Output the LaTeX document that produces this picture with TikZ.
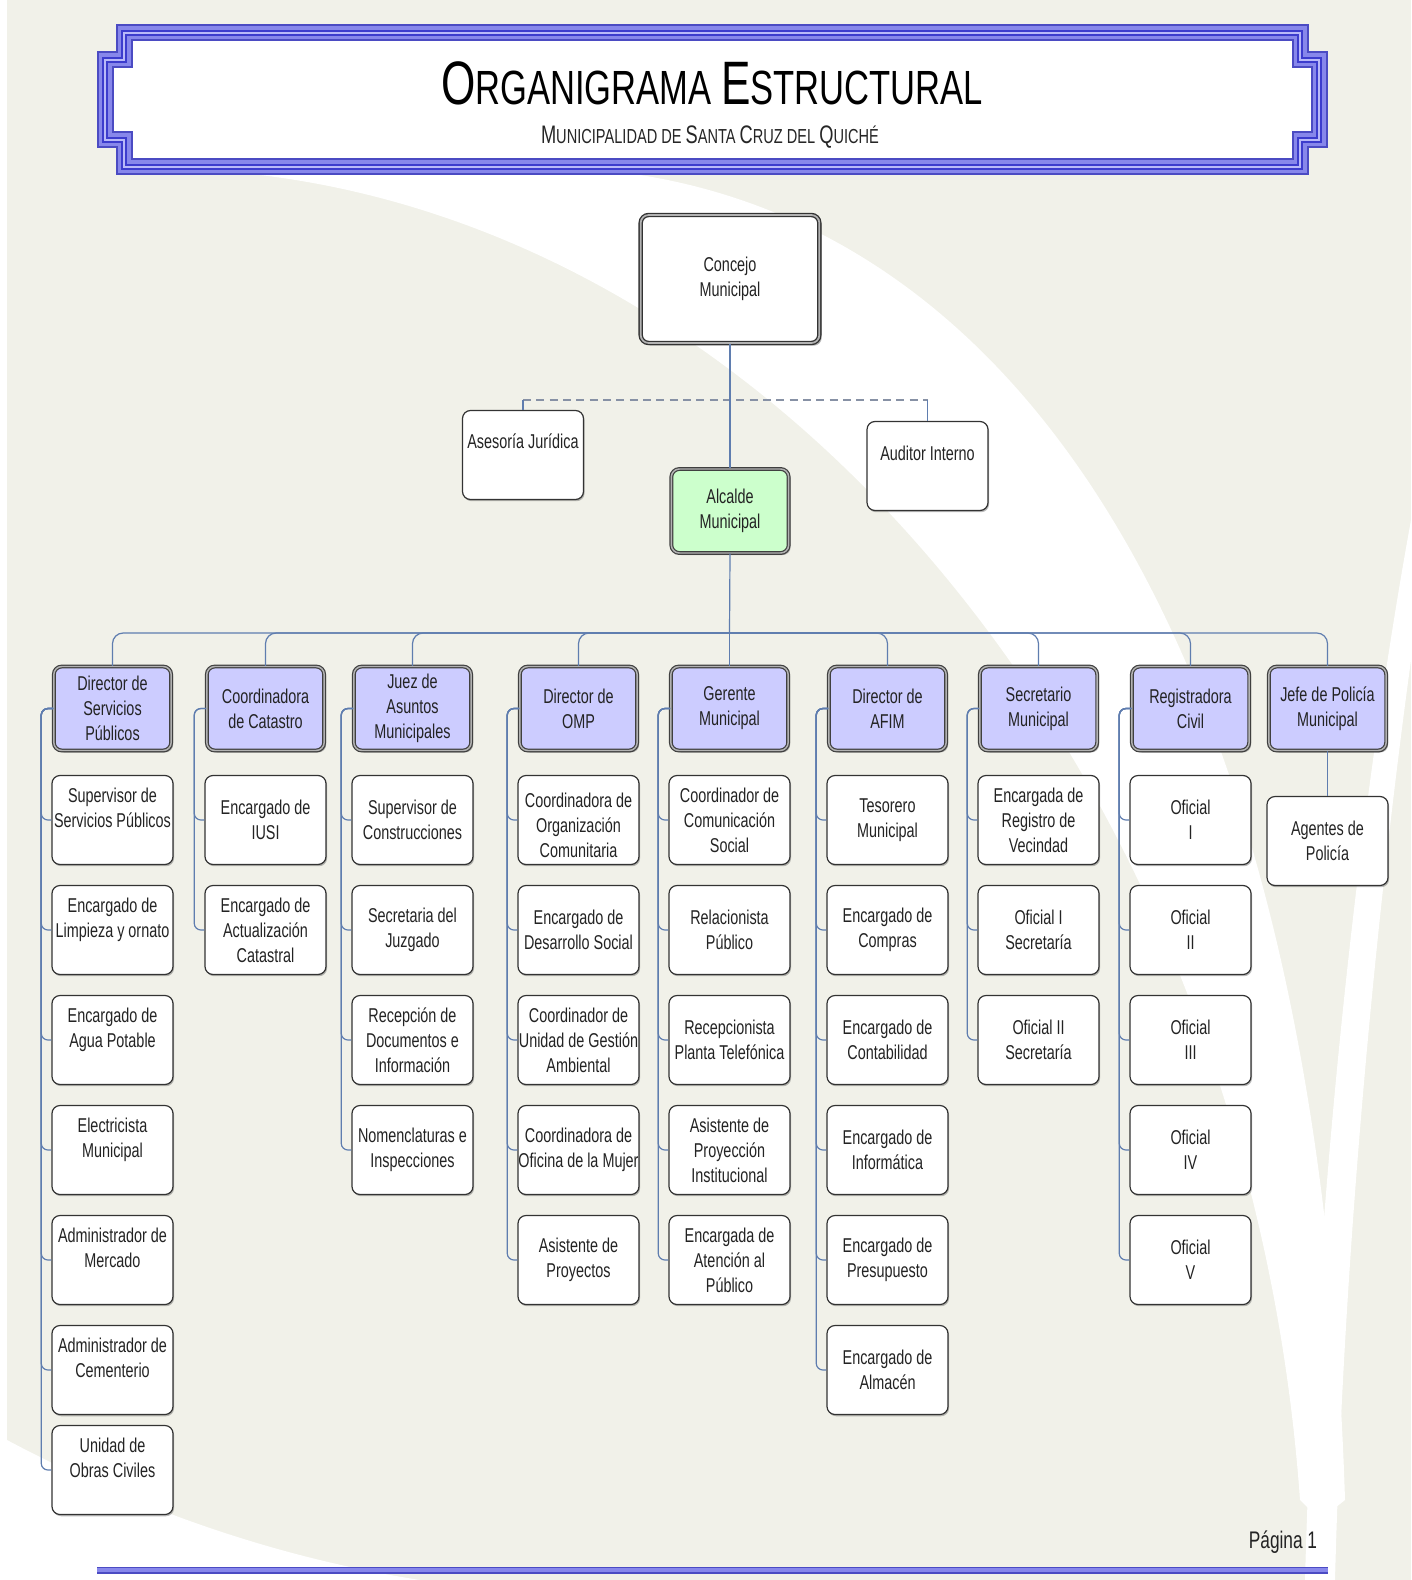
\documentclass[tikz,border=0pt]{standalone}
\usepackage{fontspec}
\setmainfont{Liberation Sans}[FakeStretch=0.72]
\usetikzlibrary{shadows}
\definecolor{bgc}{RGB}{241,241,233}
\definecolor{lav}{RGB}{204,204,255}
\definecolor{grn}{RGB}{204,255,204}
\definecolor{conc}{RGB}{95,125,175}
\definecolor{txt}{RGB}{35,35,35}
\definecolor{fba}{RGB}{75,75,195}
\definecolor{fbb}{RGB}{135,135,235}
\definecolor{fbc}{RGB}{60,60,205}
\definecolor{fbd}{RGB}{185,185,248}
\definecolor{dashc}{RGB}{135,145,165}
\tikzset{
 box/.style={rectangle, rounded corners=6pt, draw=black!80, line width=0.9pt, fill=white,
   minimum width=90.75pt, minimum height=66.75pt, inner sep=0pt, align=center, text=txt,
   font=\fontsize{15}{18.75}\selectfont,
   drop shadow={shadow xshift=0.8pt, shadow yshift=-1.3pt, opacity=0.45, fill=black!60}},
 headbox/.style={box, fill=lav, draw=black!75, line width=0.9pt, double=black!30,
   double distance=1.1pt, minimum height=63pt, minimum width=88pt,
   drop shadow={shadow xshift=1.5pt, shadow yshift=-1.5pt, opacity=0.5, fill=black!60}},
 conn/.style={draw=conc, line width=0.9pt, rounded corners=5pt},
 lbl/.style={text=txt, font=\fontsize{15}{18.75}\selectfont, inner sep=0pt},
}
\def\rowy{{820,930,1040,1150,1260,1370,1470}}
\newcommand\orgcol[3]{%
 \foreach \t [count=\i] in {#3} {%
   \pgfmathsetmacro\yy{\rowy[\i-1]}%
   \node[box] (c#1-\i) at (#2,\yy) {\t};
   \draw[conn] (h#1.west) -- ++(-12,0) |- (c#1-\i.west);
 }}
\newcommand\bigc[1]{{\fontsize{19}{19}\selectfont #1}}
\begin{document}
\begin{tikzpicture}[x=0.75pt,y=-0.75pt]
\useasboundingbox (0,0) rectangle (1411,1580);
% background
\fill[white] (0,0) rectangle (1411,1580);
\fill[bgc] (7,0) rectangle (1411,1580);
\fill[white] (260,175) .. controls (800,240) and (1250,800) .. (1300,1500)
  .. controls (1320,1520) .. (1345,1500) .. controls (1320,700) and (1050,240) .. (640,175) -- cycle;
\fill[white] (1411,520) .. controls (1360,800) and (1315,1200) .. (1305,1580) -- (1335,1580)
  .. controls (1345,1200) and (1385,850) .. (1411,660) -- cycle;
\fill[white] (7,1440) .. controls (120,1500) and (260,1555) .. (420,1580) -- (7,1580) -- cycle;
% title frame
\fill[white] (124,33) -- (1300,33) -- (1300,60) -- (1319,60) -- (1319,140) -- (1300,140) -- (1300,167) -- (124,167) -- (124,140) -- (105,140) -- (105,60) -- (124,60) -- cycle;
\foreach \w/\c in {17/fba, 13/fbb, 6/fbc, 2/fbd}{
 \draw[line width=\w*0.75pt, \c, line join=miter]
  (124,33) -- (1300,33) -- (1300,60) -- (1319,60) -- (1319,140) -- (1300,140) -- (1300,167) -- (124,167) -- (124,140) -- (105,140) -- (105,60) -- (124,60) -- cycle;
}
\node[text=black, inner sep=0pt] (title) at (712,83)
  {\fontsize{46}{46}\selectfont O\fontsize{36}{36}\selectfont RGANIGRAMA \fontsize{46}{46}\selectfont E\fontsize{36}{36}\selectfont STRUCTURAL};
\node[text=black!85, inner sep=0pt, font=\fontsize{15.2}{15.2}\selectfont] (subtitle) at (710,137)
  {\bigc{M}UNICIPALIDAD DE \bigc{S}ANTA \bigc{C}RUZ DEL \bigc{Q}UICHÉ};
% top nodes
\node[box, double=black!30, double distance=1.3pt, line width=1pt, minimum width=134pt, minimum height=96pt,
  drop shadow={shadow xshift=1.8pt, shadow yshift=-2pt, opacity=0.5, fill=black!60}] (concejo) at (730,279) {Concejo\\Municipal};
\node[headbox, fill=grn] (alc) at (730,511) {Alcalde\\Municipal};
\node[box] (ases) at (523,455) {};
\node[lbl] (asest) at (523,441) {Asesoría Jurídica};
\node[box] (aud) at (927.5,466) {};
\node[lbl] (audt) at (927.5,453) {Auditor Interno};
\coordinate (dl) at (523,400);
\coordinate (dr) at (927.5,400);
\draw[dashc, line width=1.4pt, dash pattern=on 6pt off 4pt] (dl) -- (dr);
\draw[conn] (dl) -- (ases.north);
\draw[conn] (dr) -- (aud.north);
\draw[conn] (concejo.south) -- (alc.north);
% column heads
\node[headbox] (h1) at (112.5,708.5) {Director de\\Servicios\\Públicos};
\node[headbox] (h2) at (265.5,708.5) {Coordinadora\\de Catastro};
\node[headbox] (h3) at (412.5,708.5) {Juez de\\Asuntos\\Municipales};
\node[headbox] (h4) at (578.5,708.5) {Director de\\OMP};
\node[headbox] (h5) at (729.5,708.5) {Gerente\\Municipal};
\node[headbox] (h6) at (887.5,708.5) {Director de\\AFIM};
\node[headbox] (h7) at (1038.5,708.5) {Secretario\\Municipal};
\node[headbox] (h8) at (1190.5,708.5) {Registradora\\Civil};
\node[headbox] (h9) at (1327.5,708.5) {Jefe de Policía\\Municipal};
\coordinate (bus) at (729.5,633);
\draw[conn] (alc.south) -- (bus);
\draw[conn] (bus) -- (h5.north);
\foreach \k in {1,2,3,4,6,7,8,9}{
  \draw[conn, rounded corners=8pt] (h\k.north) |- (bus);
}
% children
\orgcol{1}{112.5}{{Supervisor de\\Servicios Públicos\\\mbox{}},{Encargado de\\Limpieza y ornato\\\mbox{}},{Encargado de\\Agua Potable\\\mbox{}},{Electricista\\Municipal\\\mbox{}},{Administrador de\\Mercado\\\mbox{}},{Administrador de\\Cementerio\\\mbox{}},{Unidad de\\Obras Civiles\\\mbox{}}}
\orgcol{2}{265.5}{{Encargado de\\IUSI},{Encargado de\\Actualización\\Catastral}}
\orgcol{3}{412.5}{{Supervisor de\\Construcciones},{Secretaria del\\Juzgado},{Recepción de\\Documentos e\\Información},{Nomenclaturas e\\Inspecciones}}
\orgcol{4}{578.5}{{\mbox{}\\Coordinadora de\\Organización\\Comunitaria},{Encargado de\\Desarrollo Social},{Coordinador de\\Unidad de Gestión\\Ambiental},{Coordinadora de\\Oficina de la Mujer},{Asistente de\\Proyectos}}
\orgcol{5}{729.5}{{Coordinador de\\Comunicación\\Social},{Relacionista\\Público},{Recepcionista\\Planta Telefónica},{Asistente de\\Proyección\\Institucional},{Encargada de\\Atención al\\Público}}
\orgcol{6}{887.5}{{Tesorero\\Municipal},{Encargado de\\Compras},{Encargado de\\Contabilidad},{Encargado de\\Informática},{Encargado de\\Presupuesto},{Encargado de\\Almacén}}
\orgcol{7}{1038.5}{{Encargada de\\Registro de\\Vecindad},{Oficial I\\Secretaría},{Oficial II\\Secretaría}}
\orgcol{8}{1190.5}{{Oficial\\I},{Oficial\\II},{Oficial\\III},{Oficial\\IV},{Oficial\\V}}
\node[box] (c9-1) at (1327.5,841) {Agentes de\\Policía};
\draw[conn] (h9.south) -- (c9-1.north);
% footer
\node[text=txt, inner sep=0pt, font=\fontsize{18}{18}\selectfont] (page) at (1283,1542) {Página 1};
\coordinate (fl) at (97,1570);
\coordinate (fr) at (1328,1570);
\draw[line width=7*0.75pt, fba] (fl) -- (fr);
\draw[line width=4*0.75pt, fbb] (fl) -- (fr);
\end{tikzpicture}
\end{document}
